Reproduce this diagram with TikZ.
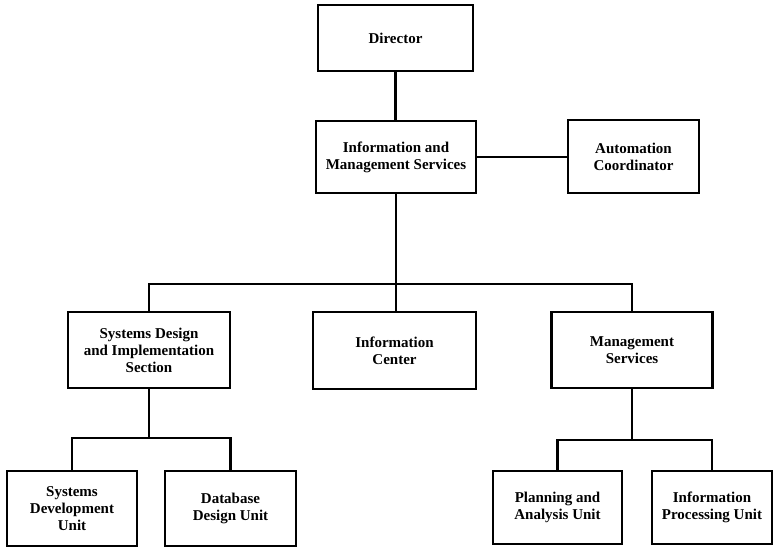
\documentclass[tikz,border=0pt]{standalone}
\usepackage{fontspec}
\setmainfont{Liberation Serif}
\begin{document}
\begin{tikzpicture}[x=1pt,y=-1pt,
  unit/.style={draw, line width=2.6pt, inner sep=0pt, align=center,
    font=\fontsize{15}{17}\selectfont\bfseries},
  link/.style={line width=2.4pt, line cap=rect}]
\useasboundingbox (0,0) rectangle (774,549);

% top of the chart
\node[unit, minimum width=155pt, minimum height=66pt] (dir) at (395.5,38) {Director};
\node[unit, minimum width=160pt, minimum height=72pt] (ims) at (396,157) {Information and\\Management Services};
\node[unit, minimum width=131pt, minimum height=73pt] (auto) at (633.5,156.5) {Automation\\Coordinator};

% sections
\node[unit, minimum width=162pt, minimum height=76pt] (sdis) at (149,350) {Systems Design\\and Implementation\\Section};
\node[unit, minimum width=163pt, minimum height=77pt] (ic) at (394.5,350.5) {Information\\Center};
\node[unit, minimum width=161pt, minimum height=76pt] (ms) at (632,350) {Management\\Services};

% units
\node[unit, minimum width=130pt, minimum height=75pt] (sdu) at (72,508.5) {Systems\\Development\\Unit};
\node[unit, minimum width=131pt, minimum height=75pt] (db) at (230.5,508.5) {Database\\Design Unit};
\node[unit, minimum width=129pt, minimum height=73pt] (pau) at (557.5,507.5) {Planning and\\Analysis Unit};
\node[unit, minimum width=120pt, minimum height=73pt] (ipu) at (712,507.5) {Information\\Processing Unit};

% bus levels
\coordinate (bus) at (0,284);
\coordinate (subl) at (0,438);
\coordinate (subr) at (0,440);

% connectors
\draw[link] (dir.south) -- (dir.south |- ims.north);
\draw[link] (ims.east) -- (ims.east -| auto.west);
\draw[link] (ims.south) -- (ims.south |- ic.north);
\draw[link] (sdis.north) -- (sdis.north |- bus) -- (ms.north |- bus) -- (ms.north);
\draw[link] (sdis.south) -- (sdis.south |- subl);
\draw[link] (sdu.north) -- (sdu.north |- subl) -- (db.north |- subl) -- (db.north);
\draw[link] (ms.south) -- (ms.south |- subr);
\draw[link] (pau.north) -- (pau.north |- subr) -- (ipu.north |- subr) -- (ipu.north);
\end{tikzpicture}
\end{document}
